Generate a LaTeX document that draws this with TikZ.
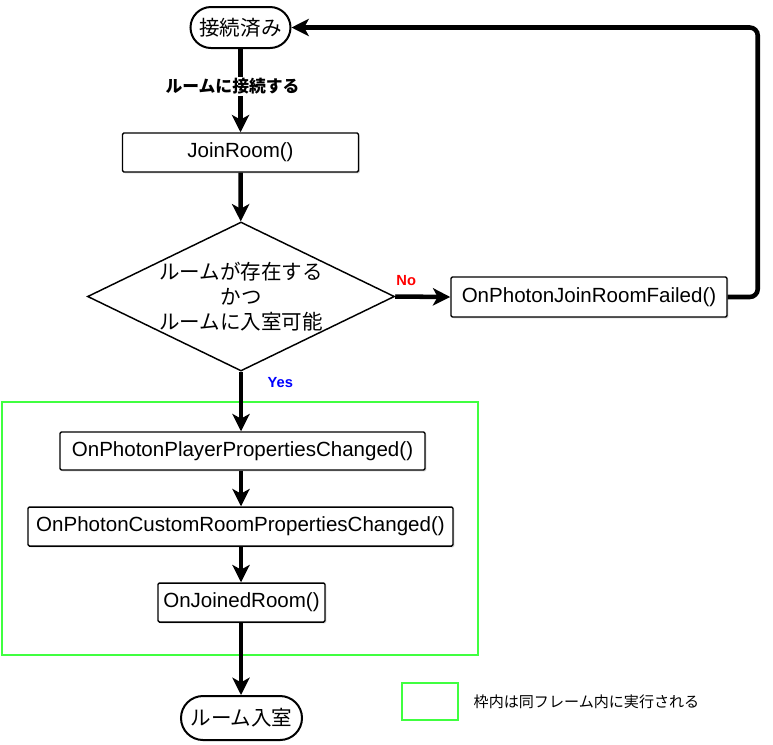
\documentclass[tikz,border=0pt]{standalone}
\usepackage{fontspec}
\setmainfont{Liberation Sans}
\newfontfamily\jp{Noto Sans CJK JP}
\usetikzlibrary{arrows.meta, shapes.geometric, shapes.misc, shadows}
\definecolor{framegreen}{RGB}{64,255,64}

\begin{document}
\begin{tikzpicture}[x=0.75pt, y=-0.75pt,
	every node/.style={font=\fontsize{15.4}{18.75}\selectfont},
	jptext/.style={font=\fontsize{15.4}{18.75}\selectfont\jp},
	small/.style={font=\fontsize{11}{13}\selectfont\bfseries},
	proc/.style={rectangle, draw, line width=1.1pt, rounded corners=1pt, inner sep=0pt, fill=white,
		drop shadow={shadow xshift=1pt, shadow yshift=-1pt, opacity=0.35}},
	term/.style={rounded rectangle, draw, line width=1.5pt, inner sep=0pt, fill=white, jptext},
	flow/.style={line width=3.4pt, -{Stealth[length=13pt, width=13pt, inset=3.5pt]}}]
	\useasboundingbox (0, 0) rectangle (773, 744);

	\node[term, minimum width=75pt, minimum height=30.75pt] (start) at (240.5, 27.5) {接続済み};
	\node[proc, minimum width=177pt, minimum height=29.25pt] (join) at (240.5, 152.5) {JoinRoom()};
	\node[diamond, draw, line width=1.1pt, aspect=2.06, inner sep=0pt, minimum width=230.25pt, minimum height=111.75pt, align=center, jptext] (check) at (241, 296.5) {ルームが存在する\\かつ\\ルームに入室可能};
	\node[proc, minimum width=207pt, minimum height=30pt] (fail) at (589, 297) {OnPhotonJoinRoomFailed()};

	% frame round the calls that run in the same frame
	\draw[framegreen, line width=2.2pt] (2, 402) rectangle (478, 655);

	\node[proc, minimum width=273.75pt, minimum height=28.5pt] (pprop) at (242.5, 451) {OnPhotonPlayerPropertiesChanged()};
	\node[proc, minimum width=318.75pt, minimum height=29.25pt] (rprop) at (240.5, 526.5) {OnPhotonCustomRoomPropertiesChanged()};
	\node[proc, minimum width=125.25pt, minimum height=29.25pt] (joined) at (241.5, 602.5) {OnJoinedRoom()};
	\node[term, minimum width=90.75pt, minimum height=33pt] (room) at (241.5, 718) {ルーム入室};

	% Draw the flow between nodes with labels
	\draw[flow] (start) -- node[pos=0.45, xshift=-6pt, fill=white, inner sep=1pt, font=\fontsize{12.6}{15}\selectfont\bfseries\jp] {ルームに接続する} (join);
	\draw[flow] (join) -- (check);
	\draw[flow] (check.east) -- node[pos=0.2, above=3pt, small, text=red] {No} (fail.west);
	\draw[flow, rounded corners=6pt] (fail.east) -- ++(30, 0) |- (start.east);
	\draw[flow] (check.south) -- node[pos=0.18, right=15pt, small, text=blue] {Yes} (check.south |- pprop.north);
	\draw[flow] (check.south |- pprop.south) -- (check.south |- rprop.north);
	\draw[flow] (check.south |- rprop.south) -- (check.south |- joined.north);
	\draw[flow] (check.south |- joined.south) -- (check.south |- room.north);

	% legend
	\node[draw=framegreen, line width=2.2pt, minimum width=42pt, minimum height=27.75pt] (key) at (430, 701.5) {};
	\node[anchor=west, font=\fontsize{11.3}{13}\selectfont\jp] (keynote) at (469, 702) {枠内は同フレーム内に実行される};
\end{tikzpicture}
\end{document}
